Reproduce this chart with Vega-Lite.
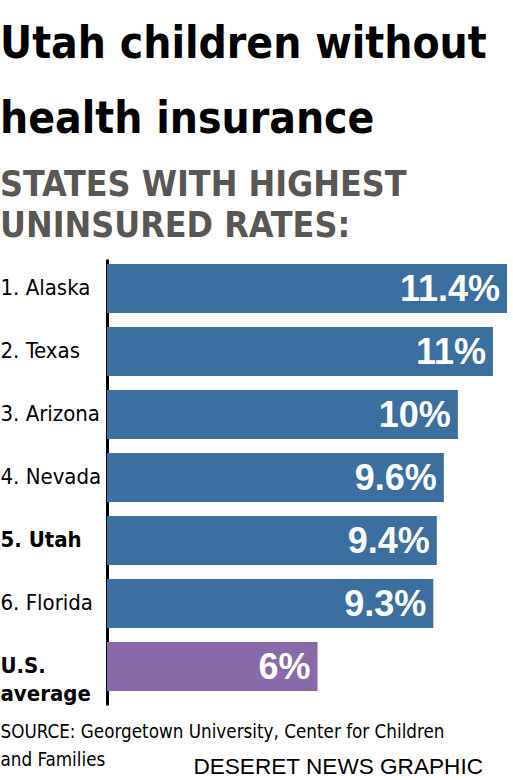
{
  "$schema": "https://vega.github.io/schema/vega-lite/v6.json",
  "description": "Utah children without health insurance: states with highest uninsured rates.",
  "background": "white",
  "padding": {"left": 0, "top": 22, "right": 6, "bottom": 0},
  "title": {
    "text": ["Utah children without", "health insurance"],
    "subtitle": ["STATES WITH HIGHEST", "UNINSURED RATES:"],
    "anchor": "start",
    "frame": "bounds",
    "font": "DejaVu Sans Condensed",
    "fontSize": 44,
    "fontWeight": "bold",
    "color": "black",
    "lineHeight": 75,
    "subtitleFont": "DejaVu Sans Condensed",
    "subtitleFontSize": 35.5,
    "subtitleFontWeight": "bold",
    "subtitleColor": "#5a5653",
    "subtitleLineHeight": 41,
    "subtitlePadding": 26,
    "offset": 15
  },
  "vconcat": [
    {
      "width": 400,
      "height": 446,
      "title": {
        "text": "DESERET NEWS GRAPHIC",
        "orient": "bottom",
        "anchor": "end",
        "frame": "group",
        "font": "Liberation Sans",
        "fontSize": 22.6,
        "fontWeight": "normal",
        "color": "black",
        "baseline": "alphabetic",
        "offset": 5,
        "dx": -24
      },
      "data": {
        "values": [
          {"label": "1. Alaska", "group": "state", "rate": 0.114},
          {"label": "2. Texas", "group": "state", "rate": 0.11},
          {"label": "3. Arizona", "group": "state", "rate": 0.10},
          {"label": "4. Nevada", "group": "state", "rate": 0.096},
          {"label": "5. Utah", "group": "state", "rate": 0.094},
          {"label": "6. Florida", "group": "state", "rate": 0.093},
          {"label": "U.S. average", "group": "us", "rate": 0.06}
        ]
      },
      "encoding": {
        "y": {
          "field": "label",
          "type": "nominal",
          "sort": null,
          "scale": {"paddingInner": 0.22, "paddingOuter": 0.15, "align": 0.26},
          "axis": {
            "title": null,
            "domain": true,
            "domainColor": "black",
            "domainWidth": 3,
            "ticks": false,
            "grid": false,
            "labelAlign": "left",
            "labelPadding": 107,
            "labelLimit": 0,
            "labelFont": "DejaVu Sans Condensed",
            "labelFontSize": 22,
            "labelColor": "black",
            "labelLineHeight": 28,
            "labelFontWeight": {
              "condition": {"test": "datum.value == '5. Utah' || datum.value == 'U.S. average'", "value": "bold"},
              "value": "normal"
            },
            "labelExpr": "datum.value == 'U.S. average' ? ['U.S.', 'average'] : datum.value"
          }
        },
        "x": {
          "field": "rate",
          "type": "quantitative",
          "scale": {"domain": [0, 0.114], "nice": false, "zero": true},
          "axis": {
            "title": ["SOURCE: Georgetown University, Center for Children", "and Families"],
            "labels": false,
            "ticks": false,
            "domain": false,
            "grid": false,
            "titleFont": "DejaVu Sans Condensed",
            "titleFontSize": 18.7,
            "titleFontWeight": "normal",
            "titleColor": "black",
            "titleLineHeight": 28,
            "titleAnchor": "start",
            "titleAlign": "left",
            "titleBaseline": "alphabetic",
            "titleX": -107,
            "titlePadding": 32
          }
        }
      },
      "layer": [
        {
          "mark": {"type": "bar"},
          "encoding": {
            "color": {
              "field": "group",
              "type": "nominal",
              "scale": {"domain": ["state", "us"], "range": ["#3b6fa0", "#8a69a9"]},
              "legend": null
            }
          }
        },
        {
          "mark": {
            "type": "text",
            "align": "right",
            "baseline": "middle",
            "dx": -7,
            "dy": 2,
            "font": "Liberation Sans",
            "fontSize": 36,
            "fontWeight": "bold",
            "color": "white"
          },
          "encoding": {
            "text": {"field": "rate", "type": "quantitative", "format": ".1~%"}
          }
        }
      ]
    }
  ],
  "config": {
    "view": {"stroke": null},
    "concat": {"spacing": 0}
  }
}
